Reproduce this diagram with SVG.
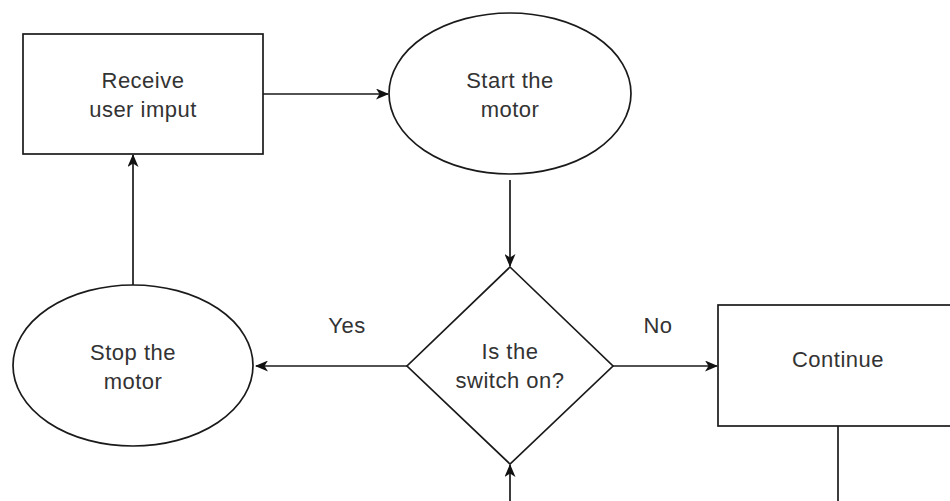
<svg xmlns="http://www.w3.org/2000/svg" width="950" height="501" viewBox="0 0 950 501">
  <defs>
    <marker id="arrow" viewBox="0 0 13 11" refX="12" refY="5.5" markerWidth="13" markerHeight="11" markerUnits="userSpaceOnUse" orient="auto">
      <path d="M0,0 L13,5.5 L0,11 L3.5,5.5 Z" fill="#111"/>
    </marker>
  </defs>
  <style>
    .shape { fill: #fff; stroke: #1a1a1a; stroke-width: 1.7; }
    .edge { fill: none; stroke: #1a1a1a; stroke-width: 1.7; }
    .label { font-family: "Liberation Sans", Arial, sans-serif; font-size: 22px; letter-spacing: 0.5px; fill: #333; text-anchor: middle; }
  </style>
  <rect width="950" height="501" fill="#fff"/>

  <g id="connectors">
    <line class="edge" x1="263" y1="94" x2="388" y2="94" marker-end="url(#arrow)"/>
    <line class="edge" x1="510" y1="180" x2="510" y2="266" marker-end="url(#arrow)"/>
    <line class="edge" x1="407" y1="366" x2="256" y2="366" marker-end="url(#arrow)"/>
    <line class="edge" x1="613" y1="366" x2="717" y2="366" marker-end="url(#arrow)"/>
    <line class="edge" x1="133" y1="285" x2="133" y2="155" marker-end="url(#arrow)"/>
    <line class="edge" x1="510" y1="501" x2="510" y2="465" marker-end="url(#arrow)"/>
    <line class="edge" x1="838" y1="426" x2="838" y2="501"/>
    <text class="label" x="347" y="333">Yes</text>
    <text class="label" x="658" y="333">No</text>
  </g>

  <g id="receive-input">
    <rect class="shape" x="23" y="34" width="240" height="120"/>
    <text class="label" x="143" y="88">Receive</text>
    <text class="label" x="143" y="117">user imput</text>
  </g>

  <g id="start-motor">
    <ellipse class="shape" cx="510" cy="93.5" rx="121" ry="80.5"/>
    <text class="label" x="510" y="88">Start the</text>
    <text class="label" x="510" y="117">motor</text>
  </g>

  <g id="switch-check">
    <polygon class="shape" points="510,267 613,366 510,464 407,366"/>
    <text class="label" x="510" y="359">Is the</text>
    <text class="label" x="510" y="388">switch on?</text>
  </g>

  <g id="stop-motor">
    <ellipse class="shape" cx="133" cy="365.5" rx="120" ry="80.5"/>
    <text class="label" x="133" y="360">Stop the</text>
    <text class="label" x="133" y="389">motor</text>
  </g>

  <g id="continue">
    <rect class="shape" x="718" y="305" width="240" height="121"/>
    <text class="label" x="838" y="367">Continue</text>
  </g>
</svg>
